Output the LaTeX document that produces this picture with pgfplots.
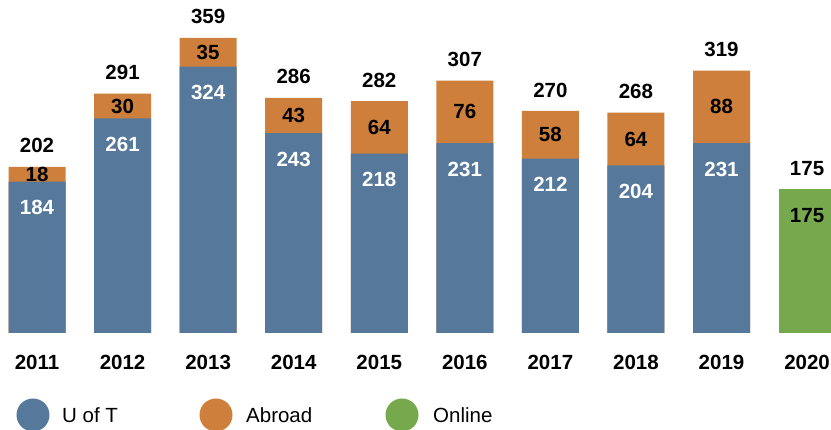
\documentclass[border=0pt]{standalone}
\usepackage{pgfplots}
\usepackage{pgfplotstable}
\pgfplotsset{compat=1.18}
\usepackage{fontspec}
\setmainfont{Liberation Sans}

\definecolor{uoft}{HTML}{56799B}
\definecolor{abroad}{HTML}{CD7F3B}
\definecolor{online}{HTML}{76A84E}

\pgfplotstableread{
x year uoft abroad total
0 2011 184 18 202
1 2012 261 30 291
2 2013 324 35 359
3 2014 243 43 286
4 2015 218 64 282
5 2016 231 76 307
6 2017 212 58 270
7 2018 204 64 268
8 2019 231 88 319
}\campus

\pgfplotstableread{
x year online
9 2020 175
}\virtual

\begin{document}
\begin{tikzpicture}
\useasboundingbox (0,0) rectangle (831pt,430pt);
\begin{axis}[
    at={(0pt,97pt)}, anchor=south west,
    scale only axis,
    width=831pt, height=333pt,
    xmin=-0.4325, xmax=9.2798,
    ymin=0, ymax=405,
    ybar, bar width=57pt,
    axis line style={draw=none},
    ytick=\empty,
    xtick={0,...,9},
    xticklabels={2011,2012,2013,2014,2015,2016,2017,2018,2019,2020},
    major tick length=0pt,
    xticklabel style={anchor=center, yshift=-29pt, font=\fontsize{20.5}{24}\selectfont\bfseries},
    clip=false,
    nodes near coords={\pgfplotspointmeta},
    point meta=explicit symbolic,
    every node near coord/.append style={font=\fontsize{20.5}{24}\selectfont\bfseries, anchor=center},
]
% totals (orange bar from zero to total)
\addplot[fill=abroad, draw=none, bar shift=0pt,
    every node near coord/.append style={yshift=21pt}]
    table[x=x, y=total, meta=total] {\campus};
% U of T
\addplot[fill=uoft, draw=none, bar shift=0pt,
    every node near coord/.append style={yshift=-26pt, text=white}]
    table[x=x, y=uoft, meta=uoft] {\campus};
% abroad labels, centred in the orange segment
\addplot[draw=none, fill=none, bar shift=0pt]
    table[x=x, y expr=\thisrow{uoft}+\thisrow{abroad}/2, meta=abroad] {\campus};
% online
\addplot[fill=online, draw=none, bar shift=0pt,
    every node near coord/.append style={yshift=-26pt}]
    table[x=x, y=online, meta=online] {\virtual};
\addplot[draw=none, fill=none, bar shift=0pt,
    every node near coord/.append style={yshift=21pt}]
    table[x=x, y=online, meta=online] {\virtual};
\end{axis}
% legend
\begin{scope}[font=\fontsize{20.5}{24}\selectfont]
\fill[uoft] (33pt,15pt) circle (16.5pt);
\node[anchor=west, inner sep=0pt] at (62pt,15pt) {U of T};
\fill[abroad] (216pt,15pt) circle (16.5pt);
\node[anchor=west, inner sep=0pt] at (246pt,15pt) {Abroad};
\fill[online] (402pt,15pt) circle (16.5pt);
\node[anchor=west, inner sep=0pt] at (433pt,15pt) {Online};
\end{scope}
\end{tikzpicture}
\end{document}
